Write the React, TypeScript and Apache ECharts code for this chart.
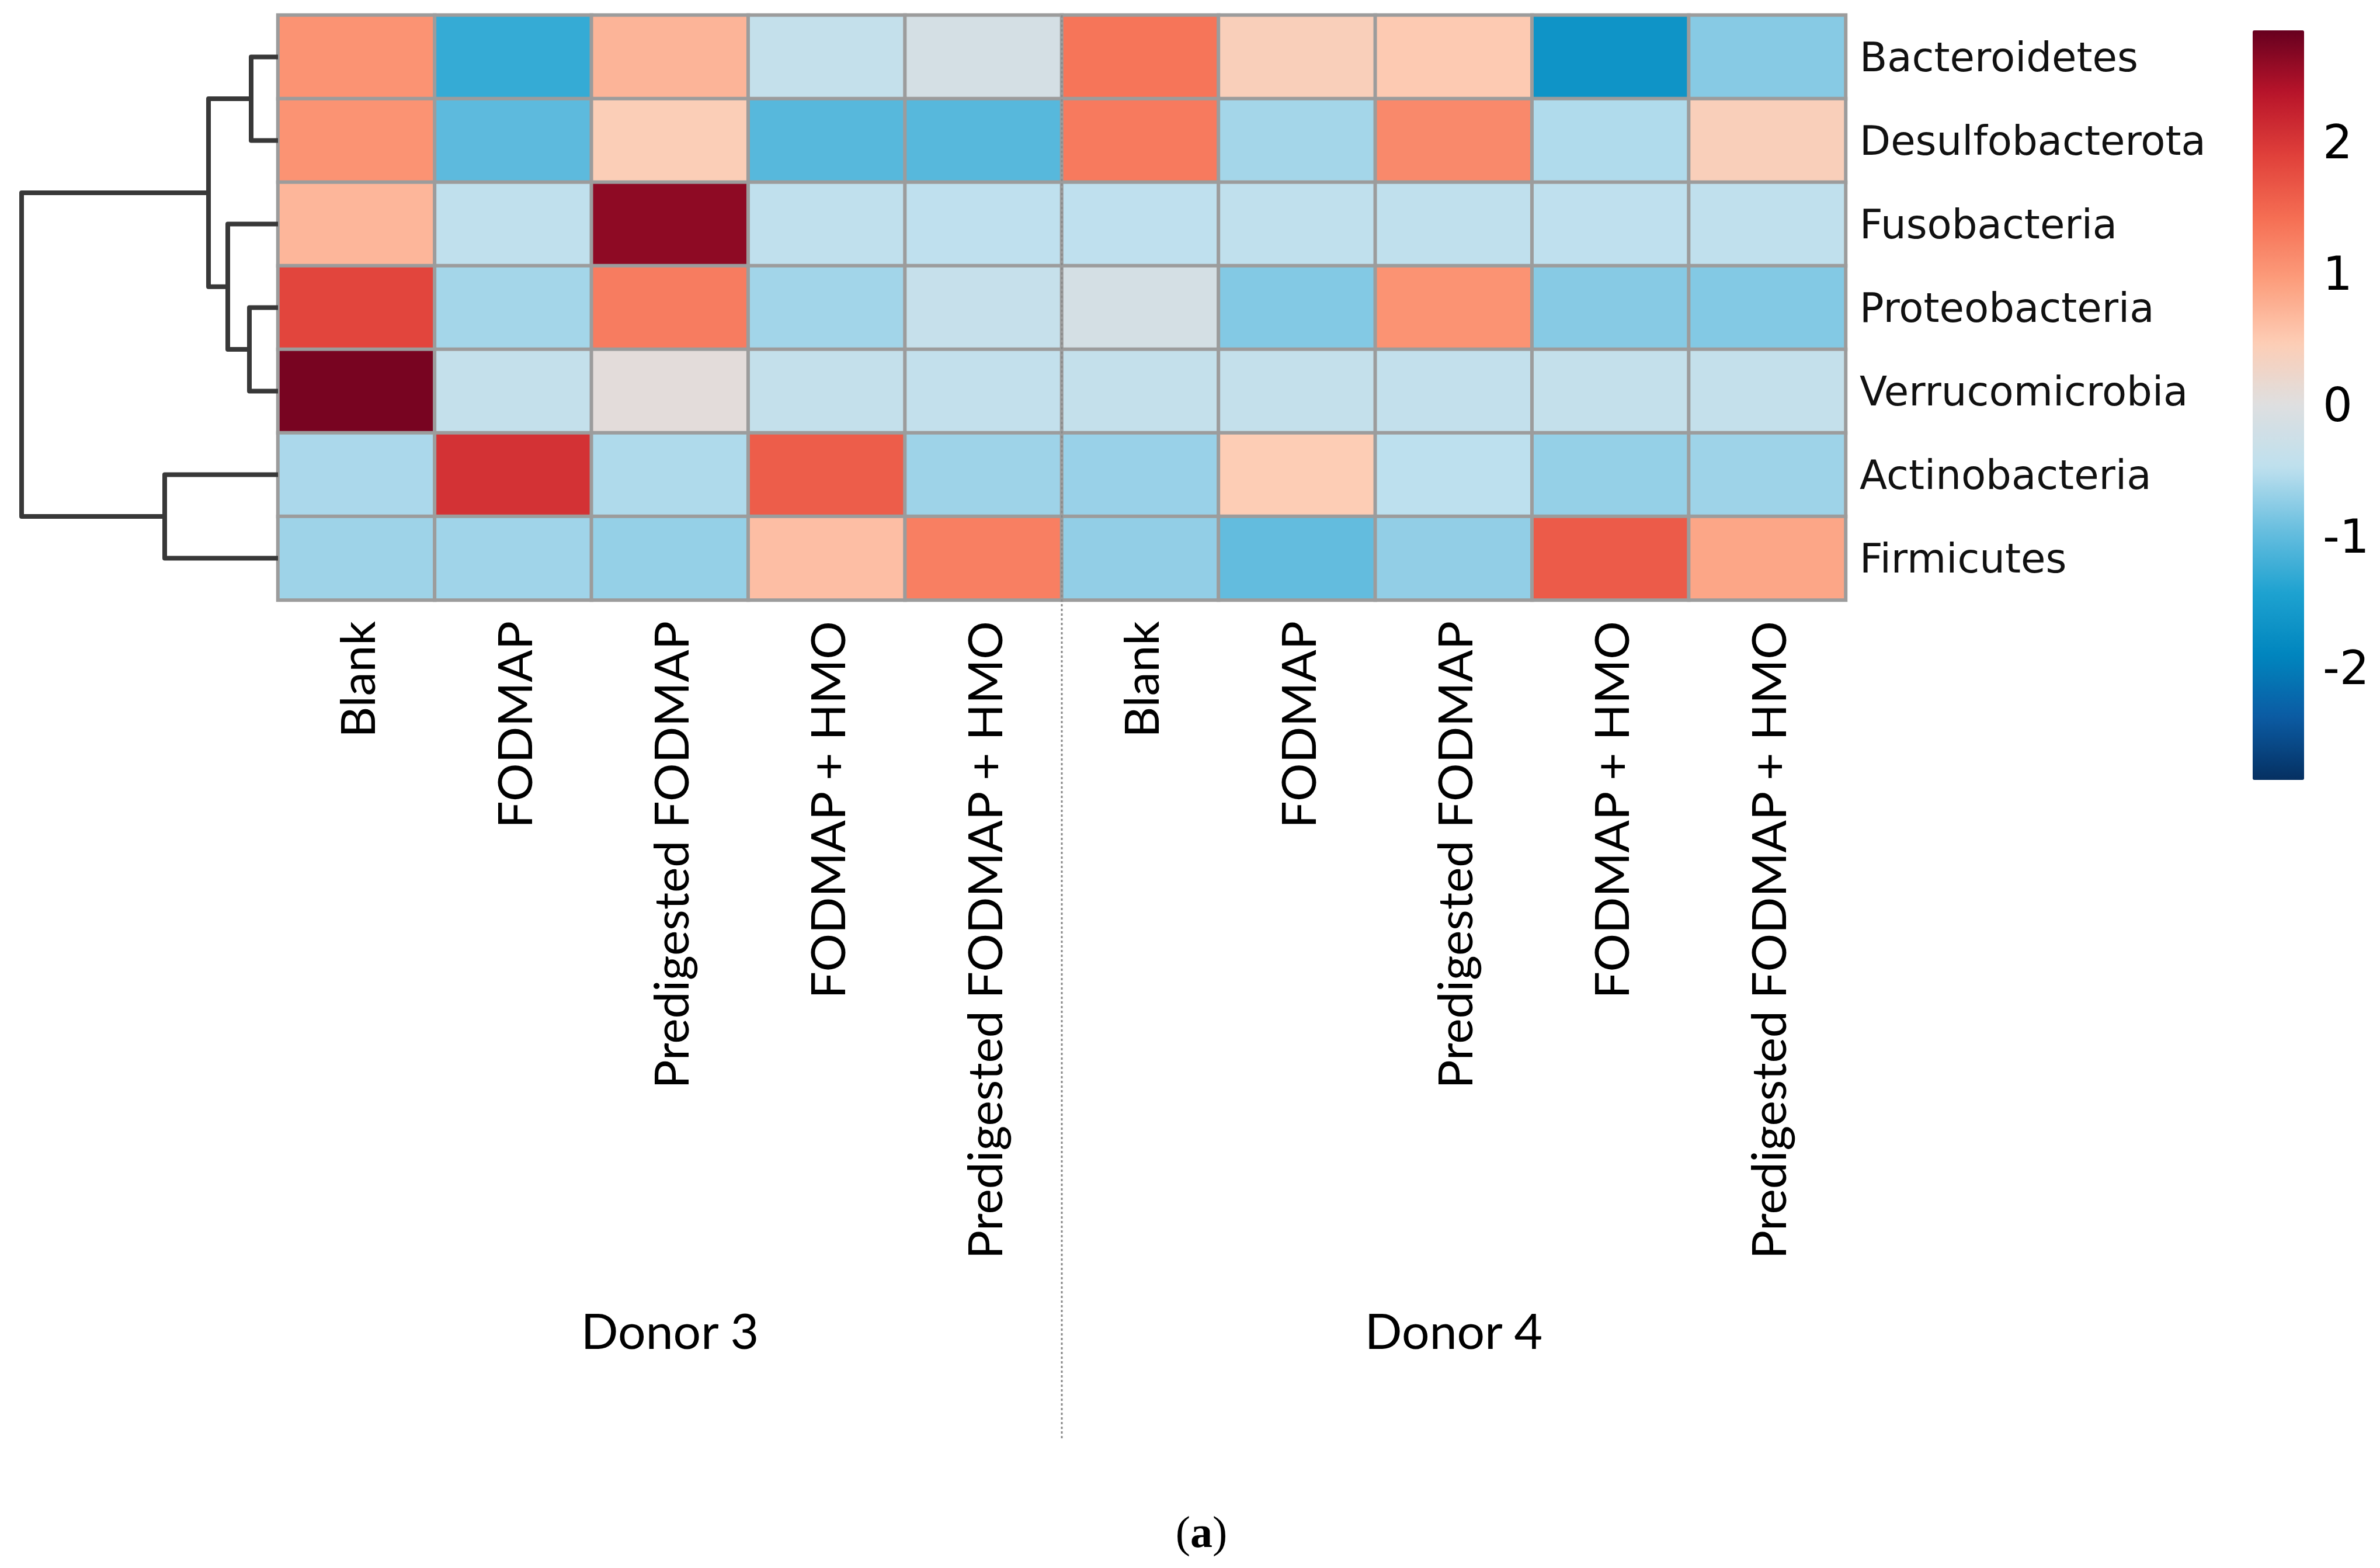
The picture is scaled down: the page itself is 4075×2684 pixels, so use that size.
import React, { useEffect, useRef } from "react";
import * as echarts from "echarts";

// ---------- data ----------
const colLabels = [
  "Blank",
  "FODMAP",
  "Predigested FODMAP",
  "FODMAP + HMO",
  "Predigested FODMAP + HMO",
  "Blank",
  "FODMAP",
  "Predigested FODMAP",
  "FODMAP + HMO",
  "Predigested FODMAP + HMO",
];

const donorGroups = [
  { name: "Donor 3", from: 0, to: 4 },
  { name: "Donor 4", from: 5, to: 9 },
];

const rowLabels = [
  "Bacteroidetes",
  "Desulfobacterota",
  "Fusobacteria",
  "Proteobacteria",
  "Verrucomicrobia",
  "Actinobacteria",
  "Firmicutes",
];

// row z-scores (one array per phylum, columns in colLabels order)
const bacteroidetes = [1.05, -1.28, 0.72, -0.38, -0.15, 1.35, 0.42, 0.5, -1.66, -0.78];
const desulfobacterota = [1.05, -1.02, 0.45, -1.06, -1.06, 1.3, -0.62, 1.15, -0.55, 0.42];
const fusobacteria = [0.7, -0.45, 2.62, -0.45, -0.46, -0.46, -0.45, -0.45, -0.46, -0.45];
const proteobacteria = [1.85, -0.62, 1.28, -0.63, -0.36, -0.15, -0.8, 1.05, -0.78, -0.8];
const verrucomicrobia = [2.75, -0.38, 0.07, -0.38, -0.4, -0.39, -0.38, -0.4, -0.39, -0.39];
const actinobacteria = [-0.58, 2.05, -0.56, 1.6, -0.65, -0.68, 0.47, -0.48, -0.7, -0.65];
const firmicutes = [-0.65, -0.64, -0.7, 0.62, 1.25, -0.72, -0.98, -0.72, 1.62, 0.86];

const rowValues = [
  bacteroidetes,
  desulfobacterota,
  fusobacteria,
  proteobacteria,
  verrucomicrobia,
  actinobacteria,
  firmicutes,
];

// row dendrogram: leaves 0..6 in rowLabels order, merges create nodes 7..12
const dendroMerges = [
  { left: 0, right: 1, height: 0.46 },
  { left: 3, right: 4, height: 0.49 },
  { left: 2, right: 8, height: 0.86 },
  { left: 7, right: 9, height: 1.19 },
  { left: 5, right: 6, height: 1.94 },
  { left: 10, right: 11, height: 4.39 },
];

const colorMin = -2.85;
const colorMax = 2.85;
const colorStops = [
  "#053061",
  "#0B5BA3",
  "#0085BE",
  "#1EA2D0",
  "#68BEDF",
  "#BEE0EE",
  "#DEDFE0",
  "#FDCDB5",
  "#FC9D7C",
  "#F56E53",
  "#E0403A",
  "#B8142A",
  "#67001F",
];

// ---------- layout ----------
const W = 4075;
const H = 2684;
const HM = { left: 476, top: 26, width: 2684, height: 1001 };
const DENDRO = { left: 37 };
const CBAR = { left: 3857, top: 52, width: 88, height: 1283 };

function buildDendro() {
  const nodes: { y: number; h: number }[] = rowLabels.map((_, i) => ({ y: i, h: 0 }));
  const segs: number[][] = [];
  dendroMerges.forEach((m) => {
    const a = nodes[m.left];
    const b = nodes[m.right];
    segs.push([a.h, a.y, m.height, b.y, b.h]);
    nodes.push({ y: (a.y + b.y) / 2, h: m.height });
  });
  return segs;
}

export default function App() {
  const ref = useRef<HTMLDivElement>(null);

  useEffect(() => {
    if (!ref.current) return;
    const chart = echarts.init(ref.current, null, { renderer: "svg" });

    const heatData: number[][] = [];
    rowValues.forEach((row, r) => row.forEach((v, c) => heatData.push([c, r, v])));
    const dendroData = buildDendro();
    const maxH = Math.max(...dendroMerges.map((m) => m.height));

    chart.setOption({
      animation: false,
      backgroundColor: "#ffffff",
      grid: [
        { left: HM.left, top: HM.top, width: HM.width, height: HM.height },
        { left: DENDRO.left, top: HM.top, width: HM.left - DENDRO.left, height: HM.height },
        { left: CBAR.left, top: CBAR.top, width: CBAR.width, height: CBAR.height },
      ],
      xAxis: [
        {
          type: "category",
          gridIndex: 0,
          data: colLabels,
          position: "bottom",
          axisLine: { show: false },
          axisTick: { show: false },
          splitLine: { show: false },
          axisLabel: {
            rotate: 90,
            interval: 0,
            margin: 36,
            fontFamily: "Lato",
            fontSize: 82,
            color: "#000",
          },
        },
        { type: "value", gridIndex: 1, min: 0, max: maxH, inverse: true, show: false },
        { type: "value", gridIndex: 2, min: 0, max: 1, show: false },
      ],
      yAxis: [
        {
          type: "category",
          gridIndex: 0,
          data: rowLabels,
          inverse: true,
          position: "right",
          axisLine: { show: false },
          axisTick: { show: false },
          splitLine: { show: false },
          axisLabel: {
            margin: 24,
            fontFamily: "DejaVu Sans",
            fontSize: 69,
            color: "#111",
          },
        },
        { type: "value", gridIndex: 1, min: -0.5, max: rowLabels.length - 0.5, inverse: true, show: false },
        {
          type: "value",
          gridIndex: 2,
          min: colorMin,
          max: colorMax,
          position: "right",
          axisLine: { show: false },
          axisTick: { show: false },
          splitLine: { show: false },
          axisLabel: {
            showMinLabel: false,
            showMaxLabel: false,
            margin: 32,
            fontFamily: "DejaVu Sans",
            fontSize: 80,
            color: "#000",
          },
        },
      ],
      visualMap: {
        type: "continuous",
        min: colorMin,
        max: colorMax,
        seriesIndex: 0,
        calculable: false,
        hoverLink: false,
        orient: "vertical",
        left: CBAR.left,
        top: CBAR.top,
        itemWidth: CBAR.width,
        itemHeight: CBAR.height,
        padding: 0,
        text: null,
        inRange: { color: colorStops },
      },
      series: [
        {
          type: "heatmap",
          xAxisIndex: 0,
          yAxisIndex: 0,
          data: heatData,
          itemStyle: { borderColor: "#9C9C9C", borderWidth: 6 },
          emphasis: { disabled: true },
        },
        {
          type: "custom",
          xAxisIndex: 1,
          yAxisIndex: 1,
          data: dendroData,
          encode: { x: [0, 2, 4], y: [1, 3] },
          renderItem: (params: any, api: any) => {
            const lh = api.value(0);
            const ly = api.value(1);
            const h = api.value(2);
            const ry = api.value(3);
            const rh = api.value(4);
            const pts = [
              api.coord([lh, ly]),
              api.coord([h, ly]),
              api.coord([h, ry]),
              api.coord([rh, ry]),
            ];
            return {
              type: "polyline",
              shape: { points: pts },
              style: { stroke: "#383838", lineWidth: 8, fill: null, lineJoin: "round", lineCap: "butt" },
            };
          },
        },
        {
          type: "scatter",
          xAxisIndex: 2,
          yAxisIndex: 2,
          data: [],
        },
      ],
    });

    // annotations positioned from the heatmap's own axes
    const px = (i: number) => chart.convertToPixel({ xAxisIndex: 0 }, i) as number;
    const py = (i: number) => chart.convertToPixel({ yAxisIndex: 0 }, i) as number;
    const rowH = py(1) - py(0);
    const top = py(0) - rowH / 2;
    const sepX = (px(4) + px(5)) / 2;

    const graphics: any[] = [
      {
        type: "line",
        shape: { x1: sepX, y1: top, x2: sepX, y2: 2464 },
        style: { stroke: "#8a8a8a", lineWidth: 3, lineDash: [4, 4] },
        z: 10,
      },
    ];
    donorGroups.forEach((g) => {
      graphics.push({
        type: "text",
        x: (px(g.from) + px(g.to)) / 2,
        y: 2276,
        style: {
          text: g.name,
          fontFamily: "Lato",
          fontSize: 84,
          fill: "#000",
          textAlign: "center",
          textVerticalAlign: "middle",
        },
      });
    });
    graphics.push({
      type: "text",
      x: 2057,
      y: 2622,
      style: {
        text: "{n|(}{b|a}{n|)}",
        textAlign: "center",
        textVerticalAlign: "middle",
        rich: {
          n: { fontFamily: "Liberation Serif", fontSize: 76, fill: "#000" },
          b: { fontFamily: "Liberation Serif", fontSize: 76, fontWeight: "bold", fill: "#000" },
        },
      },
    });
    chart.setOption({ graphic: graphics });

    return () => chart.dispose();
  }, []);

  return (
    <div
      ref={ref}
      style={{ position: "fixed", left: 0, top: 0, width: W, height: H, background: "#fff" }}
    />
  );
}
